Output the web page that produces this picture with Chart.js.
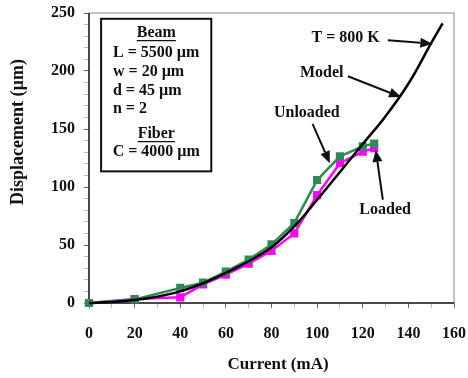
<!DOCTYPE html>
<html lang="en">
<head>
  <meta charset="UTF-8" />
  <title>Displacement vs Current</title>
  <script src="https://cdn.jsdelivr.net/npm/chart.js"></script>
  <style>
    body { margin: 0; background: #fff; }
    #wrap { width: 468px; height: 378px; }
  </style>
</head>
<body>
<div id="wrap"><canvas id="chart"></canvas></div>
<script>
  // data
  const currentMeas = [0, 20, 40, 50, 60, 70, 80, 90, 100, 110, 120, 125];
  const unloaded = [0, 3, 13, 17.5, 27, 37.5, 50.5, 69, 106, 126.5, 135, 137.5];
  const loaded = [0, 3.4, 4.9, 16, 24.5, 34, 45, 60, 93, 120.5, 130.5, 133.5];
  const currentModel = [0, 10, 20, 30, 40, 50, 60, 70, 80, 90, 100, 110, 120, 130, 140, 150, 155];
  const model = [0, 0.8, 2.5, 5.5, 10, 17, 26, 36, 48, 66, 89, 113, 137, 161, 189, 224, 241];

  const xTicks = [0, 20, 40, 60, 80, 100, 120, 140, 160];
  const yTicks = [0, 50, 100, 150, 200, 250];

  const serif = "'Liberation Serif', 'Times New Roman', serif";
  const pts = (xs, ys) => xs.map((x, i) => ({ x: x, y: ys[i] }));

  // notes on the plot, in data units
  const boxLines = [
    { t: 'Beam', x: 29.5, y: 233, center: true, underline: true },
    { t: 'L = 5500 \u00b5m', x: 10.5, y: 215.5 },
    { t: 'w = 20 \u00b5m', x: 10.5, y: 199 },
    { t: 'd = 45 \u00b5m', x: 10.5, y: 183 },
    { t: 'n = 2', x: 10.5, y: 167 },
    { t: 'Fiber', x: 29.5, y: 146, center: true, underline: true },
    { t: 'C = 4000 \u00b5m', x: 29.5, y: 130, center: true }
  ];
  const callouts = [
    { t: 'T = 800 K', x: 112.5, y: 228.5, from: [131, 226.5], to: [150.5, 223.5] },
    { t: 'Model', x: 102, y: 198, from: [113.5, 195.5], to: [136.8, 177.5] },
    { t: 'Unloaded', x: 95.5, y: 164, from: [98, 154.5], to: [105.6, 120.5] },
    { t: 'Loaded', x: 129.8, y: 80, from: [128.8, 89], to: [125.7, 132] }
  ];

  function arrow(ctx, x1, y1, x2, y2) {
    const a = Math.atan2(y2 - y1, x2 - x1);
    const len = 12, w = 5;
    const bx = x2 - len * Math.cos(a), by = y2 - len * Math.sin(a);
    ctx.beginPath();
    ctx.moveTo(x1, y1);
    ctx.lineTo(bx, by);
    ctx.stroke();
    ctx.beginPath();
    ctx.moveTo(x2, y2);
    ctx.lineTo(bx + w * Math.sin(a), by - w * Math.cos(a));
    ctx.lineTo(bx - w * Math.sin(a), by + w * Math.cos(a));
    ctx.closePath();
    ctx.fill();
  }

  const notes = {
    id: 'notes',
    beforeDatasetsDraw(chart) {
      const { ctx, chartArea: a } = chart;
      ctx.save();
      ctx.strokeStyle = '#888';
      ctx.lineWidth = 1;
      ctx.strokeRect(a.left, a.top, a.right - a.left, a.bottom - a.top);
      ctx.strokeStyle = '#222';
      ctx.lineWidth = 1.5;
      ctx.beginPath();
      ctx.moveTo(a.left, a.top);
      ctx.lineTo(a.left, a.bottom);
      ctx.lineTo(a.right, a.bottom);
      ctx.stroke();

      // axis titles
      ctx.fillStyle = '#111';
      ctx.font = 'bold 17px ' + serif;
      ctx.textAlign = 'center';
      ctx.textBaseline = 'middle';
      ctx.fillText('Current (mA)', 278, 365);
      ctx.font = 'bold 18px ' + serif;
      ctx.translate(18, 132);
      ctx.rotate(-Math.PI / 2);
      ctx.fillText('Displacement (\u00b5m)', 0, 0);
      ctx.restore();
    },
    afterDatasetsDraw(chart) {
      const { ctx, scales: { x, y } } = chart;
      ctx.save();
      // parameter box
      const bl = x.getPixelForValue(5.3), bt = y.getPixelForValue(245);
      const br = x.getPixelForValue(53.6), bb = y.getPixelForValue(113.5);
      ctx.fillStyle = '#fff';
      ctx.fillRect(bl, bt, br - bl, bb - bt);
      ctx.strokeStyle = '#111';
      ctx.lineWidth = 2;
      ctx.strokeRect(bl, bt, br - bl, bb - bt);

      ctx.fillStyle = '#111';
      ctx.font = 'bold 16px ' + serif;
      ctx.textBaseline = 'middle';
      boxLines.forEach(l => {
        const px = x.getPixelForValue(l.x), py = y.getPixelForValue(l.y);
        ctx.textAlign = l.center ? 'center' : 'left';
        ctx.fillText(l.t, px, py);
        if (l.underline) {
          const w = ctx.measureText(l.t).width;
          ctx.lineWidth = 1.2;
          ctx.beginPath();
          ctx.moveTo(px - w / 2, py + 8);
          ctx.lineTo(px + w / 2, py + 8);
          ctx.stroke();
        }
      });

      // callouts
      ctx.textAlign = 'center';
      ctx.lineWidth = 2;
      callouts.forEach(c => {
        ctx.fillText(c.t, x.getPixelForValue(c.x), y.getPixelForValue(c.y));
        arrow(ctx,
          x.getPixelForValue(c.from[0]), y.getPixelForValue(c.from[1]),
          x.getPixelForValue(c.to[0]), y.getPixelForValue(c.to[1]));
      });
      ctx.restore();
    }
  };

  const tickFont = { family: serif, size: 16, weight: 'bold' };

  new Chart(document.getElementById('chart'), {
    type: 'scatter',
    data: {
      datasets: [
        {
          label: 'Model',
          data: pts(currentModel, model),
          showLine: true,
          borderColor: '#000',
          borderWidth: 2.5,
          pointRadius: 0,
          tension: 0.4,
          clip: false
        },
        {
          label: 'Unloaded',
          data: pts(currentMeas, unloaded),
          showLine: true,
          borderColor: '#2e8b57',
          backgroundColor: '#2e8b57',
          borderWidth: 2.5,
          pointStyle: 'rect',
          pointRadius: 4,
          clip: false
        },
        {
          label: 'Loaded',
          data: pts(currentMeas, loaded),
          showLine: true,
          borderColor: '#ff00ff',
          backgroundColor: '#ff00ff',
          borderWidth: 2.5,
          pointStyle: 'rect',
          pointRadius: 4,
          clip: false
        }
      ]
    },
    options: {
      responsive: true,
      maintainAspectRatio: false,
      animation: false,
      layout: { padding: { top: 13, right: 14, left: 0, bottom: 0 } },
      plugins: {
        legend: { display: false },
        tooltip: { enabled: false }
      },
      scales: {
        x: {
          type: 'linear',
          min: 0,
          max: 160,
          afterFit: s => { s.height = 75; s.paddingLeft = 0; s.paddingRight = 0; },
          border: { display: false },
          grid: {
            drawOnChartArea: false,
            tickLength: 5,
            color: c => c.tick && c.tick.value % 20 === 0 ? '#666' : '#bbb'
          },
          ticks: {
            stepSize: 10,
            autoSkip: false,
            maxRotation: 0,
            padding: 16,
            color: '#111',
            font: tickFont,
            callback: v => xTicks.includes(v) ? v : ''
          }
        },
        y: {
          type: 'linear',
          min: 0,
          max: 250,
          afterFit: s => { s.width = 89; s.paddingTop = 0; s.paddingBottom = 0; },
          border: { display: false },
          grid: {
            drawOnChartArea: false,
            tickLength: 5,
            color: c => c.tick && c.tick.value % 50 === 0 ? '#666' : '#bbb'
          },
          ticks: {
            stepSize: 10,
            autoSkip: false,
            padding: 9,
            color: '#111',
            font: tickFont,
            callback: v => yTicks.includes(v) ? v : ''
          }
        }
      }
    },
    plugins: [notes]
  });
</script>
</body>
</html>
